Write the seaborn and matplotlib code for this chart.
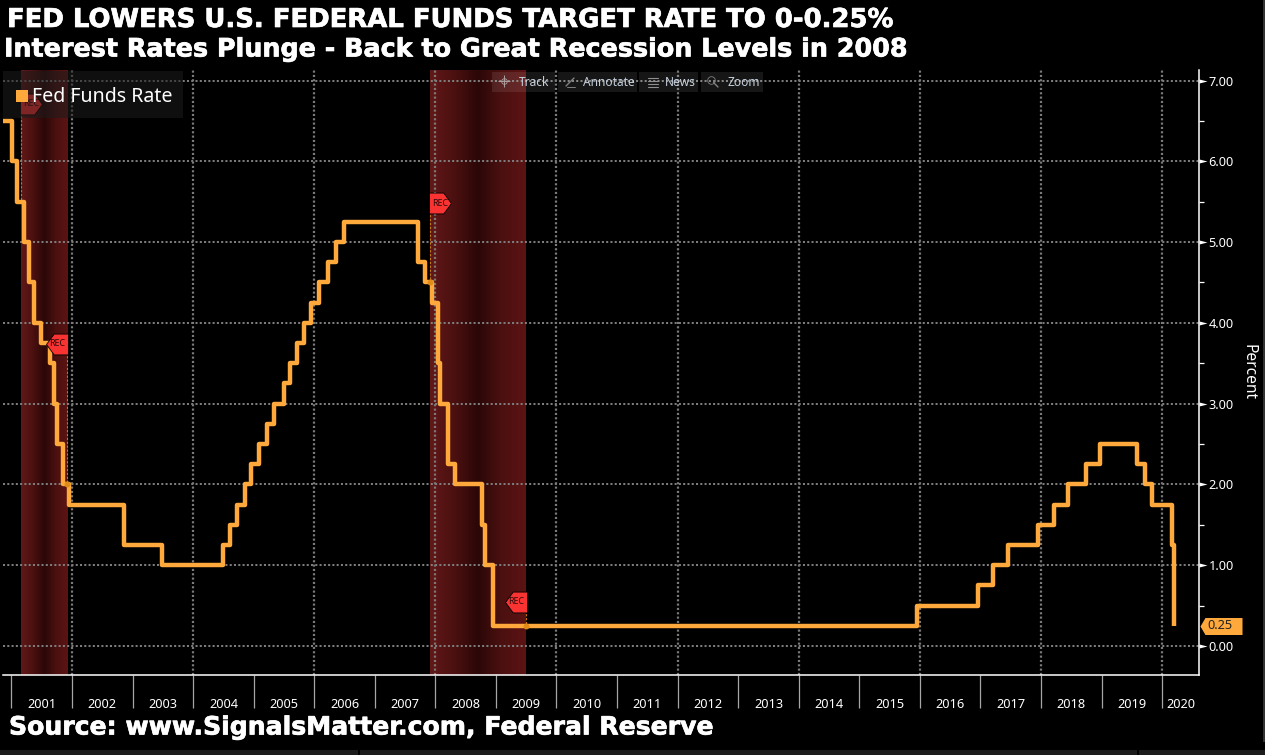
import numpy as np
import pandas as pd
import seaborn as sns
import matplotlib.pyplot as plt
import matplotlib.patheffects as pe
from matplotlib.colors import LinearSegmentedColormap
from matplotlib.lines import Line2D
from matplotlib.patches import Rectangle
from matplotlib.ticker import FixedLocator, FixedFormatter, NullFormatter
from matplotlib.transforms import offset_copy

# decimal year of each change in the target rate, and the rate after it
change_dates = [2000.86, 2001.005, 2001.083, 2001.213, 2001.293, 2001.37, 2001.485, 2001.635, 2001.71,
                2001.75, 2001.85, 2001.945, 2002.85, 2003.48, 2004.495, 2004.61, 2004.72, 2004.86,
                2004.955, 2005.09, 2005.22, 2005.335, 2005.495, 2005.605, 2005.72, 2005.835, 2005.95,
                2006.08, 2006.235, 2006.355, 2006.49, 2007.71, 2007.83, 2007.94, 2008.05, 2008.08,
                2008.205, 2008.325, 2008.765, 2008.825, 2008.955, 2015.96, 2016.955, 2017.205,
                2017.455, 2017.955, 2018.22, 2018.45, 2018.74, 2018.97, 2019.58, 2019.715, 2019.83,
                2020.17, 2020.205]
rates = [6.5, 6.0, 5.5, 5.0, 4.5, 4.0, 3.75, 3.5, 3.0,
         2.5, 2.0, 1.75, 1.25, 1.0, 1.25, 1.5, 1.75, 2.0,
         2.25, 2.5, 2.75, 3.0, 3.25, 3.5, 3.75, 4.0, 4.25,
         4.5, 4.75, 5.0, 5.25, 4.75, 4.5, 4.25, 3.5, 3.0,
         2.25, 2.0, 1.5, 1.0, 0.25, 0.5, 0.75, 1.0,
         1.25, 1.5, 1.75, 2.0, 2.25, 2.5, 2.25, 2.0, 1.75,
         1.25, 0.25]

years = list(range(2001, 2021))
year_labels = [str(y) for y in years]
rate_ticks = [0, 1, 2, 3, 4, 5, 6, 7]
recessions = [(2001.16, 2001.92), (2007.91, 2009.495)]
# flag: date, height of the flag, rate where its stem lands, side the tag sits on
rec_flags = [(2001.16, 6.71, 5.5, 1), (2001.92, 3.74, 2.0, -1), (2007.91, 5.48, 4.5, 1), (2009.495, 0.545, 0.25, -1)]
last_rate = 0.25

orange = '#ffa93c'
W, H = 1265, 755

sns.set_theme(style='dark', rc={'figure.facecolor': 'black', 'axes.facecolor': 'black', 'savefig.facecolor': 'black'})
plt.rcParams['font.family'] = ['Noto Sans', 'DejaVu Sans']

fig = plt.figure(figsize=(W / 100, H / 100), dpi=100)
ax = fig.add_axes([3 / W, 1 - 675 / H, 1196 / W, 605 / H])

df = pd.DataFrame({'date': change_dates, 'rate': rates})
sns.lineplot(data=df, x='date', y='rate', estimator=None, drawstyle='steps-post', color=orange, lw=3.2,
             solid_joinstyle='round', solid_capstyle='butt', legend=False, ax=ax, zorder=4)

ylim = (-0.359, 7.13)
xlim = (2000.86, 2020.61)

# recession bands, dark in the middle
cmap = LinearSegmentedColormap.from_list('rec', ['#611818', '#4c1010', '#2b0707', '#4c1010', '#5c1313'])
grad = np.linspace(0, 1, 128).reshape(1, -1)
for a, b in recessions:
    ax.imshow(grad, cmap=cmap, extent=(a, b, ylim[0], ylim[1]), aspect='auto', zorder=1, interpolation='bilinear')

# REC flags
flag_r = [(-1, -.95), (.3, -.95), (1, 0), (.3, .95), (-1, .95), (-1, -.95)]
flag_l = [(-x, y) for x, y in flag_r]
for date, h, land, side in rec_flags:
    tr = offset_copy(ax.transData, fig=fig, x=side * 7.2, y=0, units='points')
    ax.plot([date, date], [h, land], color='#c87810', lw=0.8, ls=(0, (2, 1.5)), zorder=3)
    ax.scatter([date], [h], marker=flag_r if side > 0 else flag_l, s=250, color='#f93232', edgecolor='black',
               lw=0.6, transform=tr, zorder=5)
    ax.text(date, h, 'REC', transform=tr, color='#300a0a', fontsize=6.4, ha='center', va='center', zorder=6)
    if side < 0 or date > 2007:
        ax.scatter([date], [land], s=18, color='#e08a18', lw=0, zorder=5)

ax.set_xlim(xlim)
ax.set_ylim(ylim)
ax.set_xlabel('')
ax.set_ylabel('')

# axis frame
for s in ['left', 'top']:
    ax.spines[s].set_visible(False)
for s in ['right', 'bottom']:
    ax.spines[s].set_visible(True)
    ax.spines[s].set_color('white')
    ax.spines[s].set_linewidth(1.1)

# x axis: long year separators, names at mid year
ax.xaxis.set_major_locator(FixedLocator(years))
ax.xaxis.set_major_formatter(NullFormatter())
mids = [y + 0.5 for y in years[:-1]] + [2020.31]
ax.xaxis.set_minor_locator(FixedLocator(mids))
ax.xaxis.set_minor_formatter(FixedFormatter(year_labels))
ax.tick_params(axis='x', which='major', bottom=True, length=24, width=0.9, color='#a6a6a6')
ax.tick_params(axis='x', which='minor', bottom=True, length=0, pad=16.5, labelsize=9.2, labelcolor='white')

# y axis on the right
ax.yaxis.tick_right()
ax.yaxis.set_label_position('right')
ax.set_yticks(rate_ticks)
ax.set_yticklabels(['%.2f' % v for v in rate_ticks], fontsize=9.2, color='white')
ax.set_yticks([v + 0.5 for v in rate_ticks[:-1]], minor=True)
ax.tick_params(axis='y', which='major', right=True, length=0, pad=7)
ax.tick_params(axis='y', which='minor', right=True, length=3.6, width=0.9, color='white')
ytr = ax.get_yaxis_transform()
ax.scatter([1.0] * len(rate_ticks), rate_ticks, marker=[(0, .5), (2, 0), (0, -.5)], s=133, color='white', lw=0,
           transform=ytr, clip_on=False, zorder=6)
ax.set_ylabel('Percent', rotation=270, fontsize=11.2, color='white', labelpad=16)

# grid: every value, every second year
ax.grid(False)
for v in rate_ticks:
    ax.axhline(v, color='#808080', lw=1.4, ls=(0, (1.05, 1.15)), zorder=2)
for y in years[1::2]:
    ax.axvline(y, color='#7a7a7a', lw=1.6, ls=(0, (0.95, 1.0)), zorder=2)

# last value tag
tag = [(-21, 0), (-16, 8.5), (21, 8.5), (21, -8.5), (-16, -8.5), (-21, 0)]
ax.scatter([1.0185], [last_rate], marker=tag, s=915, color=orange, lw=0, transform=ytr, clip_on=False, zorder=6)
ax.text(1.0069, last_rate, '%.2f' % last_rate, transform=ytr, color='#222222', fontsize=9.2, va='center', ha='left', zorder=7)

# legend, box dims what lies under it
ax.add_patch(Rectangle((3 / W, 1 - 118 / H), 180 / W, 47 / H, transform=fig.transFigure, facecolor='#1c1c1c',
                       alpha=0.55, lw=0, zorder=7))
handle = Line2D([], [], ls='none', marker='s', ms=8.8, color=orange, mew=0, label='Fed Funds Rate')
leg = ax.legend(handles=[handle], loc='center left', bbox_to_anchor=(0, (675 - 97.5) / 605), borderaxespad=0,
                frameon=False, fontsize=14.1, labelcolor='white', handlelength=0.65, handletextpad=0.2, borderpad=0.62)
leg.set_zorder(8)

# titles as real text
bold = ['DejaVu Sans']
thick = [pe.withStroke(linewidth=0.5, foreground='white')]
fig.text(7 / W, 1 - 20 / H, 'FED LOWERS U.S. FEDERAL FUNDS TARGET RATE TO 0-0.25%', color='white', family=bold,
         weight='bold', fontsize=18.65, va='center', path_effects=thick)
fig.text(4 / W, 1 - 49.5 / H, 'Interest Rates Plunge - Back to Great Recession Levels in 2008', color='white', family=bold,
         weight='bold', fontsize=18.3, va='center', path_effects=thick)
fig.text(9 / W, 1 - 727.5 / H, 'Source: www.SignalsMatter.com, Federal Reserve', color='white', family=bold,
         weight='bold', fontsize=18.1, va='center', path_effects=thick)

# chart toolbar
def px_rect(x0, y0, x1, y1, **kw):
    fig.add_artist(Rectangle((x0 / W, 1 - y1 / H), (x1 - x0) / W, (y1 - y0) / H, transform=fig.transFigure, **kw))

def px_line(xs, ys, **kw):
    fig.add_artist(Line2D([x / W for x in xs], [1 - y / H for y in ys], transform=fig.transFigure, **kw))

toolbar = [('Track', 492, 555, 519), ('Annotate', 558, 637, 583), ('News', 639, 698, 665), ('Zoom', 701, 763, 727)]
for name, x0, x1, tx in toolbar:
    px_rect(x0, 72, x1, 92, facecolor='#ffffff', alpha=0.09, lw=0)
    fig.text(tx / W, 1 - 82 / H, name, color='#c6d0dc', fontsize=8.6, va='center', zorder=5)
px_line([504], [81], marker='+', ms=8, mew=0.7, color='#b0a0a0', ls='none')
px_line([504], [81], marker='o', ms=4, mew=0.6, mfc='none', color='#b0a0a0', ls='none')
px_line([566, 574], [86, 78], color='#808080', lw=1)
px_line([567, 575], [87, 87], color='#808080', lw=0.7)
for yy in [78, 81, 84, 87]:
    px_line([648, 658], [yy, yy], color='#909090', lw=0.8)
px_line([711], [80], marker='o', ms=5.5, mew=0.6, mfc='none', color='#808080', ls='none')
px_line([713.5, 718], [82.5, 87], color='#808080', lw=1)

# strips of the next window at the bottom and right
px_rect(0, 750, 358, 755, facecolor='#1c1c1c', lw=0)
px_rect(360, 750, 1137, 755, facecolor='#1c1c1c', lw=0)
px_rect(1139, 750, 1265, 755, facecolor='#1c1c1c', lw=0)
px_rect(1263, 0, 1265, 742, facecolor='#333333', lw=0)

fig.savefig('out.png', dpi=100)
